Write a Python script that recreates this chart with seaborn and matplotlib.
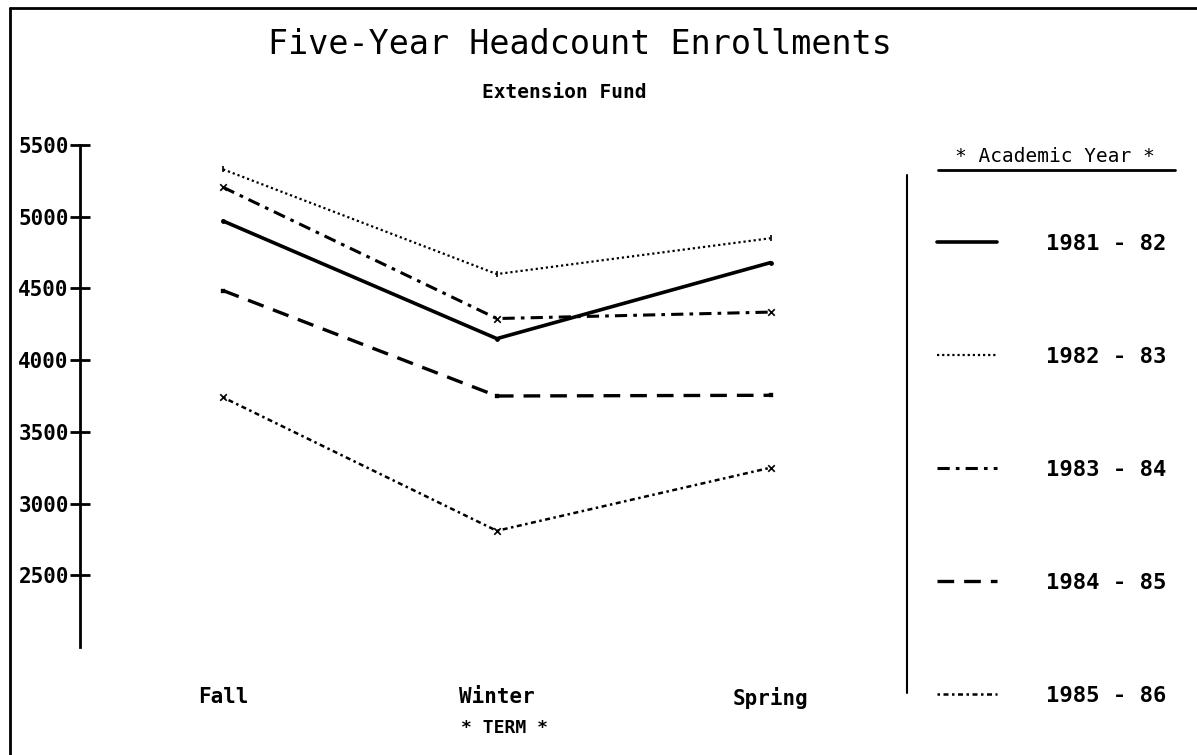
import pandas as pd
import matplotlib.pyplot as plt
import seaborn as sns
from matplotlib.lines import Line2D

# values
terms = ['Fall', 'Winter', 'Spring']
years = ['1981 - 82', '1982 - 83', '1983 - 84', '1984 - 85', '1985 - 86']
enroll_8182 = [4970, 4150, 4680]
enroll_8283 = [5330, 4600, 4850]
enroll_8384 = [5205, 4290, 4335]
enroll_8485 = [4485, 3750, 3755]
enroll_8586 = [3740, 2810, 3250]
y_ticks = [2500, 3000, 3500, 4000, 4500, 5000, 5500]

series = [enroll_8182, enroll_8283, enroll_8384, enroll_8485, enroll_8586]
data = pd.DataFrame({
    'Term': terms * len(years),
    'Academic Year': [y for y in years for _ in terms],
    'Headcount': [v for s in series for v in s],
})

sns.set_style('white')
plt.rcParams['font.family'] = ['DejaVu Sans Mono', 'DejaVu Sans']
plt.rcParams['text.color'] = 'black'
plt.rcParams['axes.labelcolor'] = 'black'
plt.rcParams['xtick.color'] = 'black'
plt.rcParams['ytick.color'] = 'black'

W, H = 1197, 755
fig = plt.figure(figsize=(W / 100, H / 100), dpi=100)
ax = fig.add_axes([80 / W, 108 / H, 800 / W, 502 / H])

# line style + point symbol for each academic year (all black)
line_styles = {
    '1981 - 82': dict(linestyle='-', linewidth=2.6),
    '1982 - 83': dict(linestyle=(0, (1, 1.3)), linewidth=1.6),
    '1983 - 84': dict(linestyle=(0, (4, 2, 1.2, 2)), linewidth=2.2),
    '1984 - 85': dict(linestyle=(0, (5, 3)), linewidth=2.4),
    '1985 - 86': dict(linestyle=(0, (1, 1.4, 2, 1.4)), linewidth=1.8),
}
point_marks = {'1981 - 82': 'o', '1982 - 83': '|', '1983 - 84': 'x',
               '1984 - 85': 's', '1985 - 86': 'x'}

for year in years:
    sub = data[data['Academic Year'] == year]
    sns.lineplot(data=sub, x='Term', y='Headcount', color='black', label=year,
                 sort=False, ax=ax, **line_styles[year])
    sns.scatterplot(data=sub, x='Term', y='Headcount', marker=point_marks[year],
                    color='black', s=22, linewidth=1.2, legend=False, ax=ax)

ax.set_xlim(-0.523, 2.40)
ax.set_ylim(2000, 5500)
ax.set_yticks(y_ticks)
ax.set_yticklabels([str(v) for v in y_ticks], fontsize=15, fontweight='bold')
ax.tick_params(axis='y', left=True, direction='inout', length=14, width=2, pad=1)
ax.tick_params(axis='x', bottom=False, length=0, pad=29, labelsize=15)
for lab in ax.get_xticklabels():
    lab.set_fontweight('bold')
ax.set_xlabel('* TERM *', fontsize=13, fontweight='bold')
ax.xaxis.set_label_coords(0.531, -0.143)
ax.set_ylabel('')
sns.despine(ax=ax, bottom=True)
ax.spines['left'].set_linewidth(2)
ax.spines['left'].set_color('black')
ax.grid(False)

# titles
fig.text(580 / W, 1 - 45 / H, 'Five-Year Headcount Enrollments',
         ha='center', va='center', fontsize=24)
fig.text(564 / W, 1 - 93 / H, 'Extension Fund',
         ha='center', va='center', fontsize=14, fontweight='bold')

# legend on the right, its title written separately above
fig.text(1055 / W, 1 - 156 / H, '* Academic Year *', ha='center', va='center',
         fontsize=14)
leg = ax.legend(loc='upper left', bbox_to_anchor=(937 / W, 1 - 234 / H),
                bbox_transform=fig.transFigure, frameon=False,
                prop={'size': 16, 'weight': 'bold'},
                handlelength=2.7, handletextpad=2.2, labelspacing=4.18,
                borderpad=0, borderaxespad=0)
for h in leg.legend_handles:
    h.set_color('black')

# underline of legend title, divider and page border
fig.add_artist(Line2D([938 / W, 1175 / W], [1 - 170 / H, 1 - 170 / H], color='black', lw=2))
fig.add_artist(Line2D([907 / W, 907 / W], [1 - 175 / H, 1 - 693 / H], color='black', lw=1.5))
fig.add_artist(Line2D([10 / W, 10 / W], [0, 1 - 8 / H], color='black', lw=2))
fig.add_artist(Line2D([10 / W, 1], [1 - 8 / H, 1 - 8 / H], color='black', lw=2))

fig.savefig('out.png', dpi=100)
